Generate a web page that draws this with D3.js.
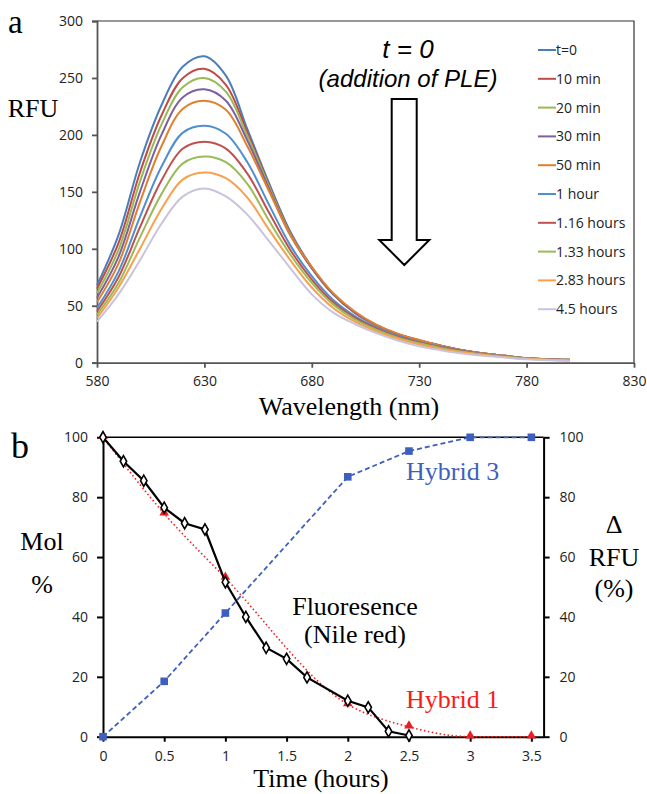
<!DOCTYPE html>
<html lang="en">
  <head>
    <meta charset="utf-8">
    <title>Nile red fluorescence</title>
    <style>
      body { margin: 0; background: #fff; }
      svg { display: block; }
      .tick text { font-family: "Open Sans", sans-serif; font-size: 14px; fill: #222; }
      .serif { font-family: "Liberation Serif", "Times New Roman", serif; }
    </style>
    <script src="https://d3js.org/d3.v7.min.js"></script>
  </head>
  <body>
    <script>
    // panel a: emission spectra (RFU vs wavelength)
    const wavelengths = [580,590,600,610,620,630,640,650,660,670,680,690,700,710,720,730,740,750,760,770,780,790,800];
    const specT0   = [68,112,176,226,260,269,252,205,158,115,84,60,44,33,25,19.5,15,11,8,6,4,3,2.5];
    const spec10m  = [65,105,167,217,250,258,244,202,156,114,83,60,44,33,25,19.5,15,11,8,6,4,3,2.5];
    const spec20m  = [61,99,159,209,242,250,238,199,155,113,83,60,44,33,25,19.5,15,11,8,6,4,3,2.5];
    const spec30m  = [57,93,150,200,233,240,230,195,153,112,83,60,44,33,25,19.5,15,11,8,6,4,3,2.5];
    const spec50m  = [53,87,141,190,223,230,222,190,151,112,84,61,45,33.5,25.5,20,15,11,8,6,4,3,2.5];
    const spec1h   = [48,80,128,172,202,208,201,176,139,103,76,55,41,31,23.5,18,14,10.5,7.5,5.5,3.8,2.8,2.3];
    const spec116h = [45,75,119,160,188,194,188,166,132,99,73,53,39.5,30,22.5,17.5,13.5,10,7.3,5.3,3.7,2.7,2.2];
    const spec133h = [42,70,110,148,175,181,176,157,125,95,70,51,38,29,22,17,13,9.7,7.1,5.2,3.6,2.6,2.1];
    const spec283h = [39,66,100,135,161,167,162,145,117,90,66,48,36,27.5,21,16,12,9.2,6.8,5,3.4,2.5,2];
    const spec45h  = [36,60,90,122,146,153,146,130,107,83,60,44,34,26,19.5,14.5,11,8,6,4.5,3,2.2,1.8];
    const spectraLabels = ["t=0","10 min","20 min","30 min","50 min","1 hour","1.16 hours","1.33 hours","2.83 hours","4.5 hours"];
    const spectra = [specT0,spec10m,spec20m,spec30m,spec50m,spec1h,spec116h,spec133h,spec283h,spec45h];
    const spectraColors = ["#4a7ebb","#be4b48","#98b954","#7d60a0","#e0802e","#4f8fd0","#c0504d","#9bbb59","#f9a04c","#c9c3de"];
    const wlTicks = [580,630,680,730,780,830];
    const rfuTicks = [0,50,100,150,200,250,300];

    // panel b: time course
    const nileTime = [0,0.167,0.333,0.5,0.667,0.833,1,1.167,1.333,1.5,1.667,2,2.167,2.333,2.5];
    const nileRFU  = [100,92,85.5,76.5,71.3,69.2,51.6,40,29.7,26,19.8,12,9.8,1.8,0.4];
    const hybridTime = [0,0.5,1,2,2.5,3,3.5];
    const hybrid1Mol = [100,74.5,53,10.8,3.3,0,0];
    const hybrid3Mol = [0,18.5,41.3,86.8,95.4,100,100];
    const timeTicks = [0,0.5,1,1.5,2,2.5,3,3.5];
    const pctTicks = [0,20,40,60,80,100];

    const svg = d3.select("body").append("svg")
      .attr("width", 647)
      .attr("height", 794);

    // ---------- panel a ----------
    const xa = d3.scaleLinear().domain([580,830]).range([97,634]);
    const ya = d3.scaleLinear().domain([0,300]).range([362.7,21]);

    // plot box top/right
    svg.append("path")
      .attr("d", `M${xa(580)},${ya(300)}H${xa(830)}V${ya(0)}`)
      .attr("fill","none").attr("stroke","#333").attr("stroke-width",1.2);

    svg.append("g")
      .attr("transform",`translate(${xa(580)},0)`)
      .call(d3.axisLeft(ya).tickValues(rfuTicks).tickSize(5).tickPadding(9))
      .call(g => g.selectAll("line,path").attr("stroke","#555").attr("stroke-width",1.8));

    svg.append("g")
      .attr("transform",`translate(0,${ya(0)})`)
      .call(d3.axisBottom(xa).tickValues(wlTicks).tickSize(5).tickPadding(8).tickSizeOuter(0))
      .call(g => g.selectAll("line,path").attr("stroke","#555").attr("stroke-width",1.8));

    const specLine = d3.line()
      .x((d,i) => xa(wavelengths[i]))
      .y(d => ya(d))
      .curve(d3.curveCatmullRom.alpha(0.5));

    svg.append("g").selectAll("path.spec")
      .data(spectra)
      .join("path")
      .attr("class","spec")
      .attr("d", specLine)
      .attr("fill","none")
      .attr("stroke",(d,i) => spectraColors[i])
      .attr("stroke-width",2);

    // legend
    const legend = svg.append("g").selectAll("g")
      .data(spectraLabels)
      .join("g")
      .attr("transform",(d,i) => `translate(538,${50 + i*28.8})`);
    legend.append("line")
      .attr("x1",0).attr("x2",18)
      .attr("stroke",(d,i) => spectraColors[i]).attr("stroke-width",2);
    legend.append("text")
      .attr("x",18).attr("dy","0.35em")
      .style("font-family","'Open Sans', sans-serif").style("font-size","14px").attr("fill","#222")
      .text(d => d);

    // arrow annotation
    svg.append("text")
      .attr("x",408).attr("y",58).attr("text-anchor","middle")
      .style("font-family","'Liberation Sans', Arial, sans-serif").style("font-style","italic").style("font-size","26px")
      .text("t = 0");
    svg.append("text")
      .attr("x",408).attr("y",87).attr("text-anchor","middle")
      .style("font-family","'Liberation Sans', Arial, sans-serif").style("font-style","italic").style("font-size","24px")
      .text("(addition of PLE)");
    svg.append("path")
      .attr("d","M391.7,99H416.7V240H429.3L404.3,265L379.3,240H391.7Z")
      .attr("fill","#fff").attr("stroke","#000").attr("stroke-width",2);

    svg.append("text").attr("class","serif")
      .attr("x",8).attr("y",33).style("font-size","33px").text("a");
    svg.append("text").attr("class","serif")
      .attr("x",33).attr("y",117).attr("text-anchor","middle").style("font-size","26px").text("RFU");
    svg.append("text").attr("class","serif")
      .attr("x",349).attr("y",415).attr("text-anchor","middle").style("font-size","26px").text("Wavelength (nm)");

    // ---------- panel b ----------
    const xb = d3.scaleLinear().domain([0,3.6]).range([103,543.6]);
    const yb = d3.scaleLinear().domain([0,100]).range([736.7,437.3]);

    svg.append("line")
      .attr("x1",xb(0)).attr("x2",xb(3.6)).attr("y1",yb(100)).attr("y2",yb(100))
      .attr("stroke","#000").attr("stroke-width",1.5);

    svg.append("g")
      .attr("transform",`translate(${xb(0)},0)`)
      .call(d3.axisLeft(yb).tickValues(pctTicks).tickSize(6).tickPadding(9).tickSizeOuter(0))
      .call(g => g.selectAll("line,path").attr("stroke","#000").attr("stroke-width",2));

    svg.append("g")
      .attr("transform",`translate(${xb(3.6)},0)`)
      .call(d3.axisRight(yb).tickValues(pctTicks).tickSize(6).tickPadding(10).tickSizeOuter(0))
      .call(g => g.selectAll("line,path").attr("stroke","#000").attr("stroke-width",2));

    svg.append("g")
      .attr("transform",`translate(0,${yb(0)})`)
      .call(d3.axisBottom(xb).tickValues(timeTicks).tickSize(5).tickPadding(9).tickSizeOuter(0).tickFormat(d3.format("")))
      .call(g => g.selectAll("line,path").attr("stroke","#000").attr("stroke-width",2));

    const hybrid3 = hybridTime.map((t,i) => [t, hybrid3Mol[i]]);
    const hybrid1 = hybridTime.map((t,i) => [t, hybrid1Mol[i]]);
    const nile = nileTime.map((t,i) => [t, nileRFU[i]]);

    const lineB = d3.line().x(d => xb(d[0])).y(d => yb(d[1]));

    // Hybrid 3 (blue dashed, squares)
    svg.append("path")
      .datum(hybrid3)
      .attr("d", lineB)
      .attr("fill","none").attr("stroke","#3f5fbf").attr("stroke-width",1.8).attr("stroke-dasharray","5,3");
    svg.append("g").selectAll("rect")
      .data(hybrid3)
      .join("rect")
      .attr("x",d => xb(d[0]) - 3.8).attr("y",d => yb(d[1]) - 3.8)
      .attr("width",7.6).attr("height",7.6)
      .attr("fill","#3f5fbf");

    // Hybrid 1 (red dotted, triangles)
    svg.append("path")
      .datum(hybrid1)
      .attr("d", lineB.curve(d3.curveMonotoneX))
      .attr("fill","none").attr("stroke","#ff1a1a").attr("stroke-width",1.6).attr("stroke-dasharray","1.5,2.5");
    lineB.curve(d3.curveLinear);
    svg.append("g").selectAll("path")
      .data(hybrid1)
      .join("path")
      .attr("d", d3.symbol(d3.symbolTriangle, 40))
      .attr("transform",d => `translate(${xb(d[0])},${yb(d[1]) - 1})`)
      .attr("fill","#ee1c24");

    // Fluorescence (black solid, open diamonds)
    svg.append("path")
      .datum(nile)
      .attr("d", lineB)
      .attr("fill","none").attr("stroke","#000").attr("stroke-width",2.2);
    svg.append("g").selectAll("path")
      .data(nile)
      .join("path")
      .attr("d", d3.symbol(d3.symbolDiamond, 36))
      .attr("transform",d => `translate(${xb(d[0])},${yb(d[1])})`)
      .attr("fill","#fff").attr("stroke","#000").attr("stroke-width",1.6);

    // labels
    svg.append("text").attr("class","serif")
      .attr("x",11).attr("y",458).style("font-size","36px").text("b");
    svg.append("text").attr("class","serif")
      .attr("x",42).attr("y",550).attr("text-anchor","middle").style("font-size","26px").text("Mol");
    svg.append("text").attr("class","serif")
      .attr("x",42).attr("y",593).attr("text-anchor","middle").style("font-size","26px").text("%");
    svg.append("text").attr("class","serif")
      .attr("x",614).attr("y",533).attr("text-anchor","middle").style("font-size","26px").text("Δ");
    svg.append("text").attr("class","serif")
      .attr("x",614).attr("y",566).attr("text-anchor","middle").style("font-size","26px").text("RFU");
    svg.append("text").attr("class","serif")
      .attr("x",614).attr("y",597).attr("text-anchor","middle").style("font-size","26px").text("(%)");
    svg.append("text").attr("class","serif")
      .attr("x",406).attr("y",480).style("font-size","26px").attr("fill","#3f5fbf").text("Hybrid 3");
    svg.append("text").attr("class","serif")
      .attr("x",406).attr("y",708).style("font-size","26px").attr("fill","#ff1a1a").text("Hybrid 1");
    svg.append("text").attr("class","serif")
      .attr("x",355).attr("y",615).attr("text-anchor","middle").style("font-size","26px").text("Fluoresence");
    svg.append("text").attr("class","serif")
      .attr("x",355).attr("y",643).attr("text-anchor","middle").style("font-size","26px").text("(Nile red)");
    svg.append("text").attr("class","serif")
      .attr("x",321).attr("y",787).attr("text-anchor","middle").style("font-size","26px").text("Time (hours)");
    </script>
  </body>
</html>
